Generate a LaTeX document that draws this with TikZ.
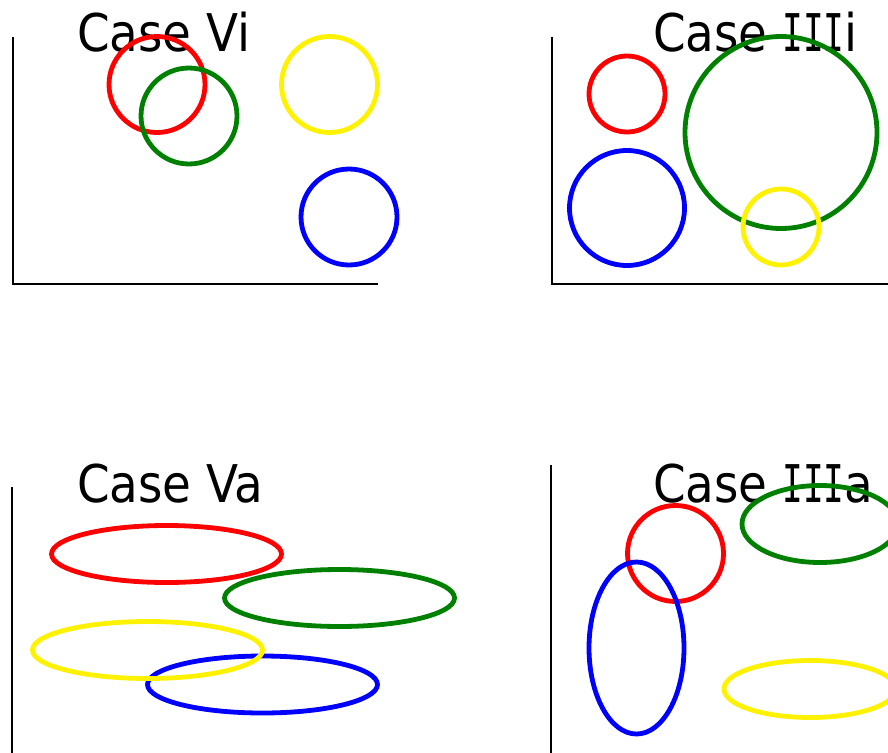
\documentclass[tikz,border=0pt]{standalone}
\usepackage{fontspec}
\setmainfont{DejaVu Sans Condensed}
\newfontfamily\serifI{DejaVu Sans Mono}
\newcommand{\capI}{\scalebox{0.66}[1]{\serifI I}}
\begin{document}
\begin{tikzpicture}[x=1pt,y=-1pt,
  axis/.style={black,line width=2pt},
  shp/.style={line width=4.8pt},
  title/.style={anchor=base west,inner sep=0pt,font=\fontsize{52}{58}\selectfont}]
\useasboundingbox (0,0) rectangle (888,752);
\clip (0,0) rectangle (888,752);
% Panel 1: Case Vi
\coordinate (a1t) at (13,37);
\coordinate (a1o) at (13,284);
\coordinate (a1r) at (378,284);
\draw[axis] (a1t) -- (a1o) -- (a1r);
\node[title] (t1) at (77,52) {Case Vi};
\draw[shp,red] (157,84.5) circle (48);
\draw[shp,green!50!black] (189,116) circle (48);
\draw[shp,blue] (349,217) circle (48);
\draw[shp,yellow] (329.5,84.5) circle (48);
% Panel 2: Case IIIi
\coordinate (a2t) at (551.5,37);
\coordinate (a2o) at (551.5,284);
\coordinate (a2r) at (890,284);
\draw[axis] (a2t) -- (a2o) -- (a2r);
\node[title] (t2) at (653,52) {Case \capI\capI\capI i};
\draw[shp,red] (627,94) circle (38);
\draw[shp,green!50!black] (781,132.5) circle (96);
\draw[shp,blue] (627,208) circle (57.5);
\draw[shp,yellow] (781,227) circle (38);
% Panel 3: Case Va
\coordinate (a3t) at (11.5,487);
\coordinate (a3o) at (11.5,755);
\draw[axis] (a3t) -- (a3o);
\node[title] (t3) at (77,502) {Case Va};
\draw[shp,red] (166.5,554) ellipse (115 and 28.5);
\draw[shp,green!50!black] (339.5,598) ellipse (115 and 28.5);
\draw[shp,blue] (262.5,684.5) ellipse (115 and 28.5);
\draw[shp,yellow] (147.5,650) ellipse (115 and 28.5);
% Panel 4: Case IIIa
\coordinate (a4t) at (551,465);
\coordinate (a4o) at (551,755);
\draw[axis] (a4t) -- (a4o);
\node[title] (t4) at (653,502) {Case \capI\capI\capI a};
\draw[shp,red] (675.5,553.5) circle (48);
\draw[shp,green!50!black] (820,524) ellipse (78 and 38.5);
\draw[shp,blue] (636.5,648) ellipse (47.5 and 86);
\draw[shp,yellow] (810,689) ellipse (86 and 28.5);
\end{tikzpicture}
\end{document}
